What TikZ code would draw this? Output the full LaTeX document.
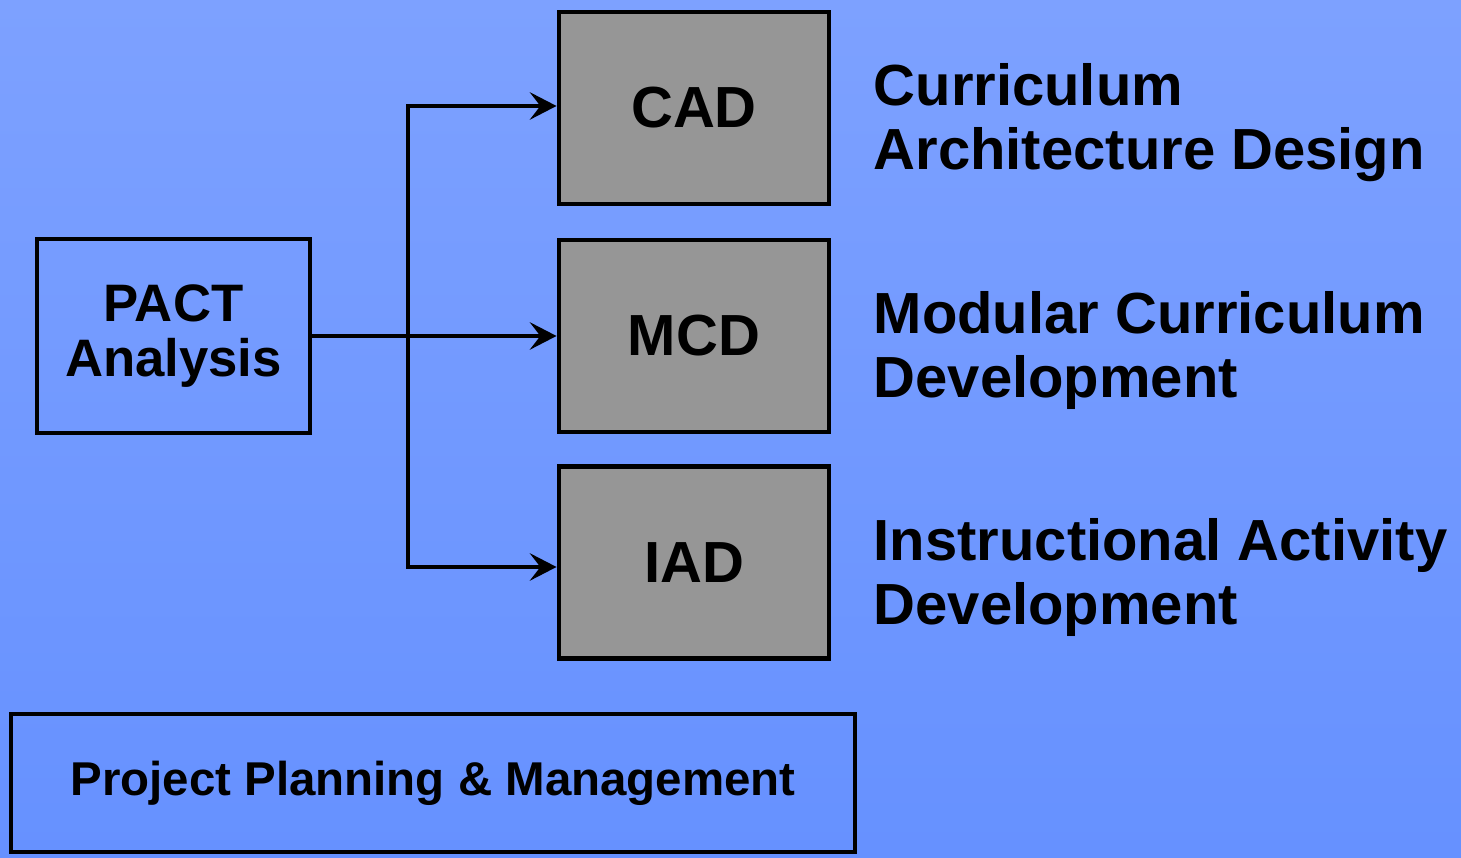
\documentclass[tikz,border=0pt]{standalone}
\usepackage{fontspec}
\setmainfont{Liberation Sans}
\usetikzlibrary{arrows.meta}
\definecolor{bgtop}{RGB}{125,161,255}
\definecolor{bgbot}{RGB}{102,145,255}
\definecolor{boxgray}{RGB}{150,150,150}
\tikzset{
  box/.style={draw, line width=1.4pt, inner sep=0pt, align=center, font=\bfseries},
  graybox/.style={box, fill=boxgray, minimum width=2.7cm, minimum height=1.92cm,
    font=\bfseries\fontsize{16.5}{18}\selectfont},
  label/.style={anchor=north west, inner sep=0pt, align=left,
    font=\bfseries\fontsize{16.5}{18.2}\selectfont},
  arr/.style={line width=1.35pt, -{Stealth[length=7.6pt,width=7.8pt,inset=3pt]}}
}
\begin{document}
\begin{tikzpicture}

\shade[top color=bgtop, bottom color=bgbot] (0,0) rectangle (14.61,8.58);

\node[box, minimum width=2.73cm, minimum height=1.94cm, font=\bfseries\fontsize{15}{15.6}\selectfont]
  (pact) at (1.735,5.22) {PACT\\Analysis};
\node[graybox] (cad) at (6.94,7.50) {CAD};
\node[graybox] (mcd) at (6.94,5.22) {MCD};
\node[graybox] (iad) at (6.94,2.955) {IAD};
\node[box, minimum width=8.44cm, minimum height=1.38cm, font=\bfseries\fontsize{13.5}{15}\selectfont]
  (ppm) at (4.33,0.75) {Project Planning \& Management};

\node[label] (cadtext) at (8.73,7.95) {Curriculum\\Architecture Design};
\node[label] (mcdtext) at (8.73,5.67) {Modular Curriculum\\Development};
\node[label] (iadtext) at (8.73,3.40) {Instructional Activity\\Development};

\coordinate (split) at (4.08,5.22);
\draw[arr] (pact.east) -- (mcd.west);
\draw[arr] (split) |- ([yshift=0.02cm]cad.west);
\draw[arr] (split) |- ([yshift=-0.045cm]iad.west);
\end{tikzpicture}
\end{document}
